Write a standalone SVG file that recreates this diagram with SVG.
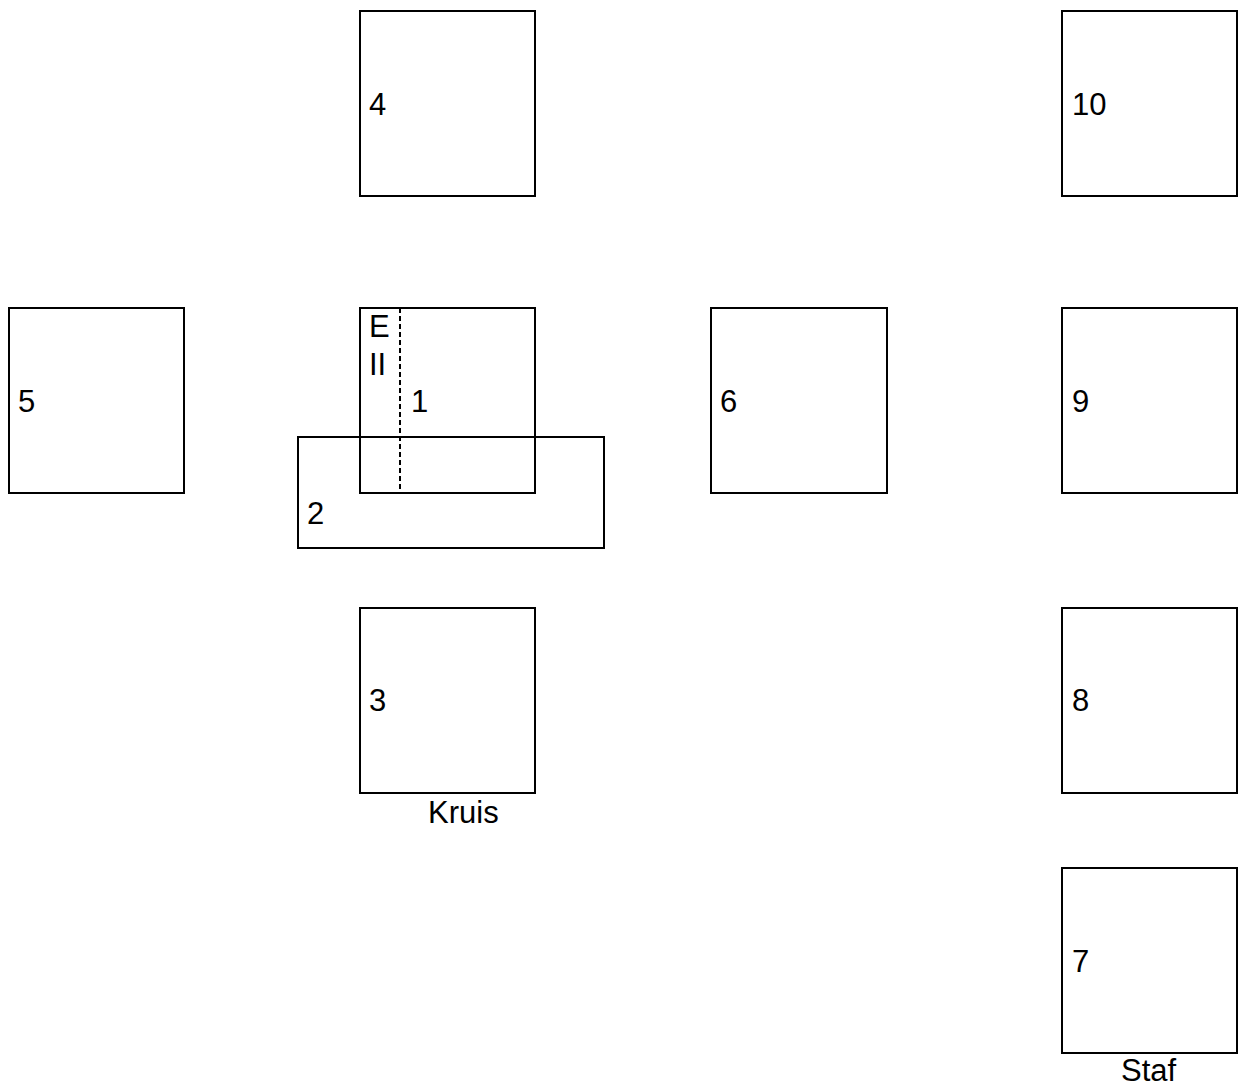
<svg xmlns="http://www.w3.org/2000/svg" width="1240" height="1085" viewBox="0 0 1240 1085">
<style>
.box{fill:none;stroke:#000;stroke-width:2}
.dash{stroke:#000;stroke-width:2;stroke-dasharray:5,3}
text{font-family:"Liberation Sans",Arial,sans-serif;font-size:31px;fill:#000}
</style>
<rect width="1240" height="1085" fill="#fff"/>
<g id="card4"><rect class="box" x="360" y="11" width="175" height="185"/><text x="369" y="115">4</text></g>
<g id="card10"><rect class="box" x="1062" y="11" width="175" height="185"/><text x="1072" y="115">10</text></g>
<g id="card5"><rect class="box" x="9" y="308" width="175" height="185"/><text x="18" y="412">5</text></g>
<g id="card1"><rect class="box" x="360" y="308" width="175" height="185"/><line class="dash" x1="400" y1="308" x2="400" y2="493"/><text x="369" y="337">E</text><text x="369" y="375">II</text><text x="411" y="412">1</text></g>
<g id="card2"><rect class="box" x="298" y="437" width="306" height="111"/><text x="307" y="524">2</text></g>
<g id="card6"><rect class="box" x="711" y="308" width="176" height="185"/><text x="720" y="412">6</text></g>
<g id="card9"><rect class="box" x="1062" y="308" width="175" height="185"/><text x="1072" y="412">9</text></g>
<g id="card3"><rect class="box" x="360" y="608" width="175" height="185"/><text x="369" y="711">3</text><text x="428" y="823">Kruis</text></g>
<g id="card8"><rect class="box" x="1062" y="608" width="175" height="185"/><text x="1072" y="711">8</text></g>
<g id="card7"><rect class="box" x="1062" y="868" width="175" height="185"/><text x="1072" y="972">7</text><text x="1121" y="1081">Staf</text></g>
<g id="connectors"></g>
</svg>
